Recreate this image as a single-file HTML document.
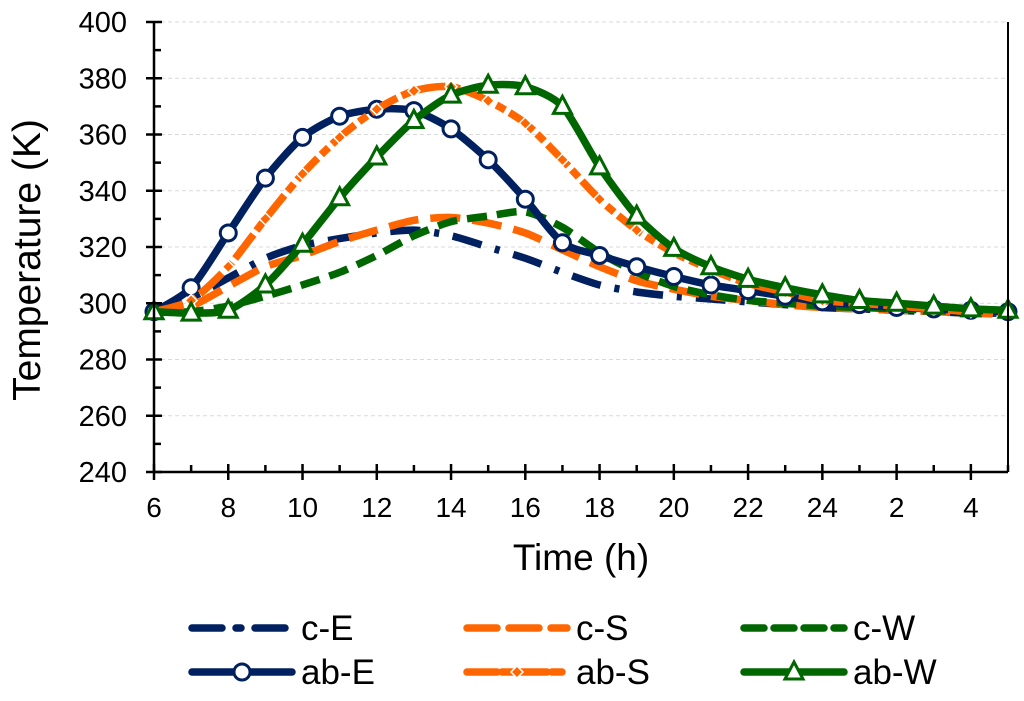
<!DOCTYPE html>
<html><head><meta charset="utf-8"><style>
html,body{margin:0;padding:0;background:#fff;}
svg{display:block;font-family:"Liberation Sans",Arial,sans-serif;}
</style></head><body>
<svg id="chart" width="1024" height="701" viewBox="0 0 1024 701">
<g id="grid"></g>
<g id="series"></g>
<g id="axes"></g>
<text x="581" y="570" font-size="37" text-anchor="middle">Time (h)</text>
<text transform="translate(40,260) rotate(-90)" font-size="39" text-anchor="middle">Temperature (K)</text>
<g id="legend"></g>
</svg>
<script>
const hours = [6,7,8,9,10,11,12,13,14,15,16,17,18,19,20,21,22,23,24,1,2,3,4,5];
const xTickLabels = ["6","8","10","12","14","16","18","20","22","24","2","4"];
const yTicks = [240,260,280,300,320,340,360,380,400];
const cE = [297,302,309,316,320.5,323,325,326,324,320,316,311,306.5,304,302.5,301.5,300.5,299.5,298.5,298,297.5,297,296.5,296.5];
const cS = [297,299,306,313,317,322,326,329.5,330.5,328.5,325,319,313,308,305,302.5,301,299.5,298.5,298,297.5,297,296.5,296];
const cW = [297,297,299,302.5,306.5,311,317,324,329,331,332.5,327,318,311,306,303,301,300,299,298.5,298,297.5,297,297];
const abE = [297,305.5,325,344.5,359,366.5,369,368.5,362,351,337,321.5,317,313,309.5,306.5,304.5,302.5,300.5,299.5,298.5,298,297.5,297];
const abS = [297,301,313,330,346,359,369,375.5,377,372,364,351,337,326,318,312,307,304,301,300,299,298,297,296.5];
const abW = [297,296.5,297.5,306.5,321,337.5,352,365,374,377.5,377,370,348.5,331,319.5,313,308.5,305.5,303,301,300,299,298,297.5];

const NS="http://www.w3.org/2000/svg";
const X0=154, X1=1008, Y0=472, Y1=22;
const xs = i => X0 + i*(X1-X0)/(hours.length-1);
const ys = v => Y0 - (v-240)*(Y0-Y1)/160;
function mk(tag, attrs, parent){const e=document.createElementNS(NS,tag);for(const k in attrs)e.setAttribute(k,attrs[k]);parent.appendChild(e);return e;}
const grid=document.getElementById('grid'), axes=document.getElementById('axes'), ser=document.getElementById('series'), leg=document.getElementById('legend');

yTicks.forEach(v=>{
  if(v>240){const g=mk('line',{x1:X0,x2:X1,y1:ys(v),y2:ys(v),stroke:'#d9d9d9','stroke-width':1,'stroke-dasharray':'4 3'},grid);
  
  }
  const t=mk('line',{x1:X0-8,x2:X0+8,y1:ys(v),y2:ys(v),stroke:'#000','stroke-width':2.5},axes);
  
  
  const tx=mk('text',{x:X0-27,y:ys(v)+10,'font-size':29,'text-anchor':'end'},axes);
  tx.textContent=v;
  
  
  if(v<400){const m=mk('line',{x1:X0,x2:X0+7,y1:ys(v+10),y2:ys(v+10),stroke:'#000','stroke-width':2.5},axes);
  
  }
});
hours.forEach((h,i)=>{
  const major=i%2===0;
  const t=mk('line',{x1:xs(i),x2:xs(i),y1:major?Y0-8:Y0-7,y2:major?Y0+8:Y0,stroke:'#000','stroke-width':2.5},axes);
  
  
  if(major){const tx=mk('text',{x:xs(i),y:Y0+45,'font-size':28,'text-anchor':'middle'},axes);
  tx.textContent=xTickLabels[i/2];
  
  }
});
const ax1=mk('line',{x1:X0,x2:X0,y1:Y1,y2:Y0,stroke:'#000','stroke-width':2.5},axes);


const ax2=mk('line',{x1:X0,x2:X1,y1:Y0,y2:Y0,stroke:'#000','stroke-width':2.5},axes);


const ax3=mk('line',{x1:X1,x2:X1,y1:Y1,y2:Y0,stroke:'#000','stroke-width':2},axes);



function smooth(vals){
  const p=vals.map((v,i)=>[xs(i),ys(v)]);
  let d='M'+p[0][0]+','+p[0][1];
  const k=1/8;
  for(let i=0;i<p.length-1;i++){
    const p0=p[i-1]||p[i],p1=p[i],p2=p[i+1],p3=p[i+2]||p2;
    const c1=[p1[0]+(p2[0]-p0[0])*k,p1[1]+(p2[1]-p0[1])*k];
    const c2=[p2[0]-(p3[0]-p1[0])*k,p2[1]-(p3[1]-p1[1])*k];
    d+=` C${c1[0]},${c1[1]} ${c2[0]},${c2[1]} ${p2[0]},${p2[1]}`;
  }
  return d;
}
const NAVY='#002060',OR='#ff6600',GR='#006600';
const defs=[
 {name:'c-E',vals:cE,color:NAVY,dash:'30 14 5 14',w:7.5,m:null},
 {name:'c-S',vals:cS,color:OR,dash:'30 12',w:7.5,m:null},
 {name:'c-W',vals:cW,color:GR,dash:'20 10',w:7.5,m:null},
 {name:'ab-E',vals:abE,color:NAVY,dash:null,w:7.5,m:'circle'},
 {name:'ab-S',vals:abS,color:OR,dash:'30 5 10 5',w:7.5,m:'diamond'},
 {name:'ab-W',vals:abW,color:GR,dash:null,w:7.5,m:'triangle'}
];
function marker(type,x,y,color,parent,name){
  let e=null;
  if(type==='circle') e=mk('circle',{cx:x,cy:y,r:8,fill:'#fff',stroke:color,'stroke-width':3},parent);
  else if(type==='diamond') e=mk('path',{d:`M${x},${y-6}L${x+6},${y}L${x},${y+6}L${x-6},${y}Z`,fill:color,stroke:'#fff','stroke-width':1.5},parent);
  else if(type==='triangle') e=mk('path',{d:`M${x},${y-10}L${x+9},${y+7}L${x-9},${y+7}Z`,fill:'#fff',stroke:color,'stroke-width':3},parent);
  if(e){
  }
}
defs.forEach(s=>{
  const a={d:smooth(s.vals),fill:'none',stroke:s.color,'stroke-width':s.w,'stroke-linejoin':'round'};
  if(s.dash)a['stroke-dasharray']=s.dash;
  const p=mk('path',a,ser);
  
  
  if(s.m) s.vals.forEach((v,i)=>marker(s.m,xs(i),ys(v),s.color,ser,'marker-'+s.name));
});
const lx=[192,467,744], ly=[628,672];
defs.forEach((s,k)=>{
  const x=lx[k%3], y=ly[Math.floor(k/3)];
  const g=mk('g',{},leg);
  
  
  const a={x1:x,x2:x+100,y1:y,y2:y,stroke:s.color,'stroke-width':7.5,'stroke-linecap':'round'};
  if(s.dash)a['stroke-dasharray']=s.dash;
  const l=mk('line',a,g);
  
  
  if(s.m) marker(s.m,x+50,y,s.color,g,'legend-marker-'+s.name);
  const t=mk('text',{x:x+109,y:y+12,'font-size':35},g);
  t.textContent=s.name;
  
  
});
</script>
</body></html>
